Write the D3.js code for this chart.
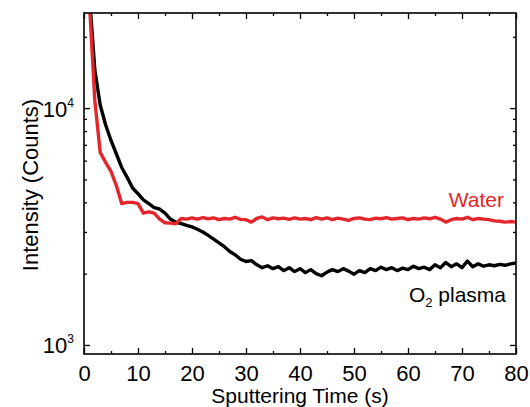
<!DOCTYPE html>
<html>
<head>
<meta charset="utf-8">
<script src="https://cdn.jsdelivr.net/npm/d3@7"></script>
<style>
  body { margin: 0; background: #fff; }
  text { font-family: "Liberation Sans", Arial, sans-serif; }
</style>
</head>
<body>
<svg width="530" height="407"></svg>
<script>
// sputtering time in seconds
var times = d3.range(0, 81);

var o2Plasma = [80000, 30000, 14500, 10300, 8500, 7300, 6400, 5600, 5100, 4600,
  4350, 4100, 3950, 3800, 3750, 3600, 3400, 3300, 3250, 3200,
  3150, 3080, 3000, 2900, 2800, 2700, 2600, 2480, 2400, 2300,
  2250, 2270, 2180, 2120, 2160, 2100, 2140, 2060, 2120, 2040,
  2100, 2020, 2080, 2000, 1960, 2030, 2080, 2040, 2100, 2050,
  1990, 2060, 2020, 2100, 2060, 2130, 2080, 2120, 2060, 2110,
  2080, 2150, 2100, 2130, 2080, 2180, 2120, 2230, 2140, 2200,
  2120, 2260, 2140, 2200, 2150, 2180, 2160, 2190, 2170, 2200, 2220];

var water = [80000, 28000, 10800, 6500, 5900, 5400, 4700, 3950, 4000, 4000,
  3950, 3600, 3650, 3600, 3400, 3280, 3270, 3250, 3420, 3400,
  3440, 3400, 3450, 3410, 3440, 3380, 3420, 3400, 3460, 3390,
  3380, 3300, 3420, 3470, 3380, 3440, 3410, 3430, 3390, 3440,
  3400, 3420, 3380, 3450, 3400, 3440, 3380, 3430, 3400, 3360,
  3420, 3440, 3400, 3380, 3430, 3410, 3450, 3400, 3420, 3440,
  3380, 3420, 3400, 3440, 3410, 3460, 3400, 3300, 3380, 3420,
  3400, 3460, 3380, 3420, 3400, 3380, 3340, 3330, 3300, 3320, 3300];

var xMajorTicks = [0, 10, 20, 30, 40, 50, 60, 70, 80];
var xMinorTicks = [5, 15, 25, 35, 45, 55, 65, 75];
var yMajorTicks = [1000, 10000];
var yMinorTicks = [2000, 3000, 4000, 5000, 6000, 7000, 8000, 9000, 20000];

var pl = 84, pr = 516, pt = 13, pb = 354;

var svg = d3.select("svg");

var x = d3.scaleLinear().domain([0, 80]).range([pl, pr]);
var y = d3.scaleLog().domain([916, 25200]).range([pb, pt]);

svg.append("clipPath").attr("id", "plot")
  .append("rect")
  .attr("x", pl).attr("y", pt)
  .attr("width", pr - pl).attr("height", pb - pt);

var line = d3.line()
  .x(function(d, i) { return x(times[i]); })
  .y(function(d) { return y(d); });

var lines = svg.append("g").attr("clip-path", "url(#plot)");

lines.append("path")
  .attr("d", line(o2Plasma))
  .attr("fill", "none")
  .attr("stroke", "#000")
  .attr("stroke-width", 3.4)
  .attr("stroke-linejoin", "round");

lines.append("path")
  .attr("d", line(water))
  .attr("fill", "none")
  .attr("stroke", "#e3262b")
  .attr("stroke-width", 3.4)
  .attr("stroke-linejoin", "round");

// axes with inward ticks
function styleAxis(g) {
  g.select(".domain").remove();
  g.selectAll("line").attr("stroke", "#000").attr("stroke-width", 1.3);
}

svg.append("g").attr("transform", "translate(0," + pb + ")")
  .call(d3.axisBottom(x).tickValues(xMinorTicks).tickSize(-3).tickFormat(""))
  .call(styleAxis);
var xAx = svg.append("g").attr("transform", "translate(0," + pb + ")")
  .call(d3.axisBottom(x).tickValues(xMajorTicks).tickSize(-6).tickPadding(8))
  .call(styleAxis);
xAx.selectAll("text")
  .attr("fill", "#000")
  .style("font-size", "22px")
  .attr("dy", "0.85em");

svg.append("g").attr("transform", "translate(0," + pt + ")")
  .call(d3.axisTop(x).tickValues(xMinorTicks).tickSize(-3).tickFormat(""))
  .call(styleAxis);
svg.append("g").attr("transform", "translate(0," + pt + ")")
  .call(d3.axisTop(x).tickValues(xMajorTicks).tickSize(-6).tickFormat(""))
  .call(styleAxis);

svg.append("g").attr("transform", "translate(" + pl + ",0)")
  .call(d3.axisLeft(y).tickValues(yMinorTicks).tickSize(-3).tickFormat(""))
  .call(styleAxis);
var yAx = svg.append("g").attr("transform", "translate(" + pl + ",0)")
  .call(d3.axisLeft(y).tickValues(yMajorTicks).tickSize(-6).tickFormat(""))
  .call(styleAxis);

yAx.selectAll(".tick").append("text")
  .attr("x", -10)
  .attr("y", 8)
  .attr("text-anchor", "end")
  .attr("fill", "#000")
  .style("font-size", "22px")
  .each(function(d) {
    var t = d3.select(this);
    t.append("tspan").text("10");
    t.append("tspan").attr("dy", -10).style("font-size", "12px")
      .text(Math.round(Math.log10(d)));
  });

svg.append("g").attr("transform", "translate(" + pr + ",0)")
  .call(d3.axisRight(y).tickValues(yMinorTicks).tickSize(-3).tickFormat(""))
  .call(styleAxis);
svg.append("g").attr("transform", "translate(" + pr + ",0)")
  .call(d3.axisRight(y).tickValues(yMajorTicks).tickSize(-6).tickFormat(""))
  .call(styleAxis);

// frame
svg.append("rect")
  .attr("x", pl).attr("y", pt)
  .attr("width", pr - pl).attr("height", pb - pt)
  .attr("fill", "none")
  .attr("stroke", "#000")
  .attr("stroke-width", 1.6);

// axis titles
svg.append("text")
  .attr("x", (pl + pr) / 2)
  .attr("y", 403)
  .attr("text-anchor", "middle")
  .style("font-size", "21px")
  .text("Sputtering Time (s)");

svg.append("text")
  .attr("transform", "translate(38," + 185 + ") rotate(-90)")
  .attr("text-anchor", "middle")
  .style("font-size", "22px")
  .text("Intensity (Counts)");

// series labels
svg.append("text")
  .attr("x", 504).attr("y", 207)
  .attr("text-anchor", "end")
  .attr("fill", "#e3262b")
  .style("font-size", "21px")
  .text("Water");

var o2 = svg.append("text")
  .attr("x", 506).attr("y", 302)
  .attr("text-anchor", "end")
  .attr("fill", "#000")
  .style("font-size", "21px");
o2.append("tspan").text("O");
o2.append("tspan").attr("dy", 5).style("font-size", "13px").text("2");
o2.append("tspan").attr("dy", -5).text(" plasma");
</script>
</body>
</html>
